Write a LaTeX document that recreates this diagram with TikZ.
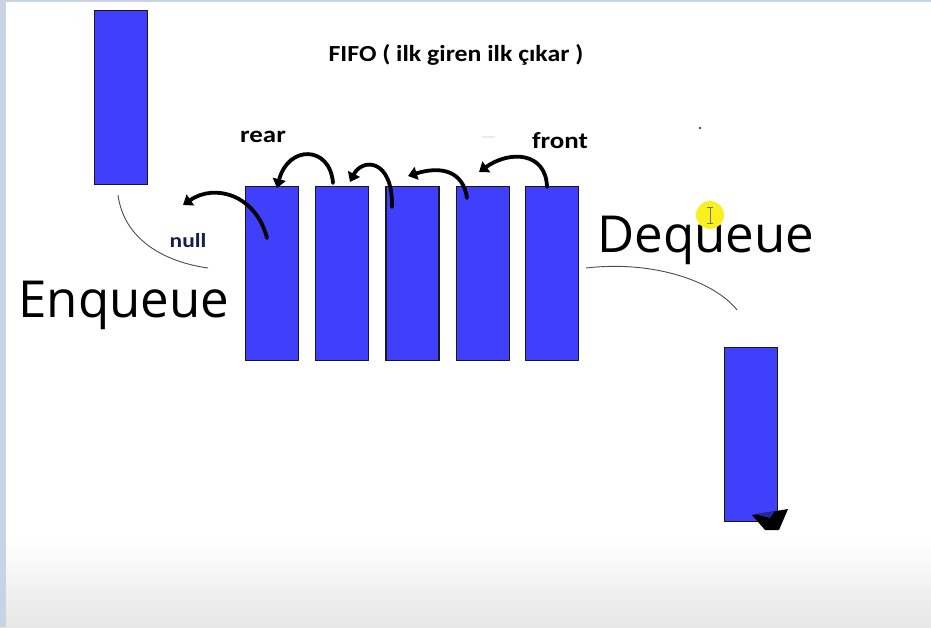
\documentclass[tikz,border=0pt]{standalone}
\usepackage{fontspec}
\setmainfont{Open Sans}
\newfontfamily\labelfont{Carlito}
\usetikzlibrary{positioning,arrows.meta,calc}
\definecolor{cBox}{RGB}{64,64,252}
\definecolor{cNull}{RGB}{20,30,70}
\definecolor{cEdge}{RGB}{200,211,227}
\definecolor{cFade}{RGB}{230,230,230}
\definecolor{cCursor}{RGB}{250,240,30}

\begin{document}
\begin{tikzpicture}[
  x=1pt, y=-1pt,
  cell/.style = {draw=black!90, line width=1.2pt, fill=cBox, anchor=north west,
                 minimum width=53pt, minimum height=174pt, inner sep=0pt},
  tag/.style  = {font=\labelfont\bfseries\fontsize{23}{26}\selectfont,
                 inner sep=0pt, xscale=1.17},
  big/.style  = {font=\fontsize{51}{60}\selectfont, inner sep=0pt},
  ink/.style  = {line width=3.8pt, black, line cap=round,
                 -{Triangle[length=9pt, width=13pt]}},
  hint/.style = {draw=black!70, line width=0.9pt}
]
\useasboundingbox (0,0) rectangle (931,627);

% ------------------------------------------------------------- la pagina --
\fill[white] (0,0) rectangle (931,627);
\shade[top color=white, bottom color=cFade] (0,540) rectangle (931,627);
\fill[cEdge] (0,0) rectangle (6,627);
\fill[cEdge] (0,0) rectangle (931,2);

% ---------------------------------------------------------------- la coda --
\node[cell] (q1) at (245,186) {};
\node[cell, right=16pt of q1] (q2) {};
\node[cell, right=16pt of q2] (q3) {};
\node[cell, right=16pt of q3] (q4) {};
\node[cell, right=15pt of q4] (q5) {};

\node[cell] (inbox)  at (94,10)   {};
\node[cell] (outbox) at (724,347) {};

% ----------------------------------------------------------------- testi --
\node[tag, xscale=0.96] (title) at (456,55) {FIFO ( ilk giren ilk çıkar )};
\node[tag] (rear)  at (263,137) {rear};
\node[tag] (front) at (560,141) {front};
\node[tag, text=cNull, font=\labelfont\bfseries\fontsize{20}{22}\selectfont] (null) at (188,241) {null};
\node[big] (enq) at (124,305) {Enqueue};
\node[big] (deq) at (706,240) {Dequeue};

% --------------------------------------------------------- frecce a mano --
\coordinate (p1) at (267,238);  \coordinate (h1) at (183,205);
\coordinate (p2) at (333,183);  \coordinate (h2) at (277,188);
\coordinate (p3) at (392,207);  \coordinate (h3) at (350,182);
\coordinate (p4) at (467,198);  \coordinate (h4) at (408,176);
\coordinate (p5) at (547,187);  \coordinate (h5) at (479,172);
\draw[ink] (p1) .. controls (256,195) and (215,183) .. (h1);
\draw[ink] (p2) .. controls (330,145) and (288,145) .. (h2);
\draw[ink] (p3) .. controls (393,158) and (362,158) .. (h3);
\draw[ink] (p4) .. controls (463,170) and (440,166) .. (h4);
\draw[ink] (p5) .. controls (546,152) and (510,150) .. (h5);

% ------------------------------------------------------ linee di raccordo --
\coordinate (encA) at (118,195);  \coordinate (encB) at (208,268);
\coordinate (decA) at (586,268);  \coordinate (decB) at (737,310);
\draw[hint] (encA) .. controls (124,240) and (165,262) .. (encB);
\draw[hint] (decA) .. controls (655,260) and (715,282) .. (decB);

% ------------------------------------------------------- resti dello schermo --
\fill[black] (752,515) -- (788,509) -- (779,530) -- (765,530) -- cycle;
\fill[cBox!60!black] (755,514) -- (775,511) -- (770,518) -- cycle;
\fill[cCursor] (710,215) circle (14);
\draw[black!55, line width=1pt] (710,207) -- (710,223)
  (707,207) -- (713,207) (707,223) -- (713,223);
\fill[black!70] (700,128) circle (1.3);
\draw[black!8, line width=2pt] (482,137) -- (495,137);

\end{tikzpicture}
\end{document}
